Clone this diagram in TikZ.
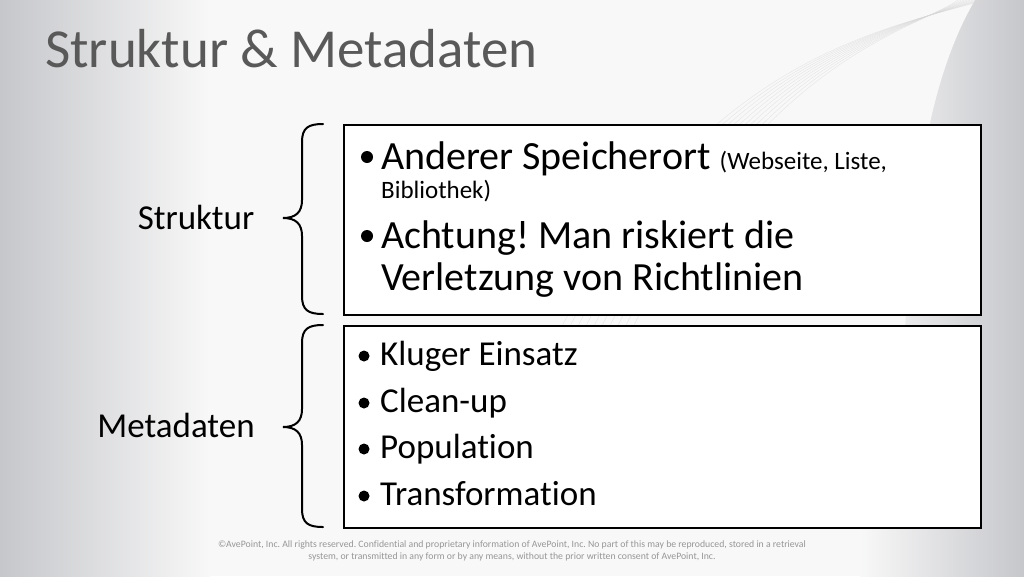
\documentclass[tikz,border=0pt]{standalone}
\usepackage{fontspec}
\setmainfont{Carlito}[Ligatures=NoCommon]
\definecolor{bgL}{RGB}{198,199,203}
\definecolor{bgW}{RGB}{248,248,248}
\definecolor{titlegray}{RGB}{89,89,89}
\definecolor{footgray}{RGB}{150,150,150}
\definecolor{swoosh}{RGB}{215,215,215}
\tikzset{
  box/.style={draw=black, line width=2pt, fill=white, anchor=north west, inner sep=0pt},
  brace/.style={draw=black, line width=2pt, line cap=round},
  bigtxt/.style={anchor=base west, inner sep=0pt, font=\fontsize{40}{44}\selectfont},
  midtxt/.style={anchor=base west, inner sep=0pt, font=\fontsize{35}{40}\selectfont},
  lbl/.style={anchor=base, inner sep=0pt, font=\fontsize{35}{40}\selectfont},
  foot/.style={anchor=base, inner sep=0pt, text=footgray, font=\fontsize{9.75}{11}\selectfont}
}
\begin{document}
\frenchspacing
\begin{tikzpicture}[x=1pt,y=-1pt]
\useasboundingbox (0,0) rectangle (1024,576);
% background
\fill[bgW] (0,0) rectangle (1024,576);
\fill[left color=bgL, right color=bgW] (0,0) rectangle (210,576);
\fill[left color=bgW, right color=bgL] (860,0) rectangle (1024,576);
\fill[bgW] (860,0) -- (975,0) .. controls (940,60) and (915,150) .. (905,330) -- (860,330) -- cycle;
\foreach \i in {0,...,9}{
  \draw[swoosh, line width=0.4pt, opacity=0.6] (560+\i*8,330) .. controls (700+\i*6,60) and (880+\i*4,30) .. (985-\i*3,0);
}
% title
\node[anchor=base west, inner sep=0pt, text=titlegray, font=\fontsize{55}{60}\selectfont] (title) at (45,67) {Struktur \& Metadaten};
% boxes
\node[box, minimum width=637pt, minimum height=190pt] (box1) at (343,124) {};
\node[box, minimum width=637pt, minimum height=202pt] (box2) at (343,325) {};
% braces
\draw[brace] (323,124) .. controls (308,124) and (302,128) .. (302,142) -- (302,200)
  .. controls (302,212) and (296,218) .. (283,218)
  .. controls (296,218) and (302,224) .. (302,236) -- (302,296)
  .. controls (302,310) and (308,314) .. (323,314);
\draw[brace] (323,325) .. controls (308,325) and (302,329) .. (302,343) -- (302,409)
  .. controls (302,421) and (296,427) .. (283,427)
  .. controls (296,427) and (302,433) .. (302,445) -- (302,509)
  .. controls (302,523) and (308,527) .. (323,527);
% labels
\node[lbl] (lstruktur) at (196,229) {Struktur};
\node[lbl] (lmeta) at (176,437) {Metadaten};
% box 1 text
\fill (367,157) circle[radius=6pt];
\node[bigtxt] (t1) at (381,169) {Anderer Speicherort {\fontsize{25}{30}\selectfont (Webseite, Liste,}};
\node[anchor=base west, inner sep=0pt, font=\fontsize{25}{30}\selectfont] (t1b) at (381,198) {Bibliothek)};
\fill (367,236) circle[radius=6pt];
\node[bigtxt] (t2) at (381,248) {Achtung! Man riskiert die};
\node[bigtxt] (t2b) at (381,290) {Verletzung von Richtlinien};
% box 2 text
\fill (364,356) circle[radius=5.5pt];
\node[midtxt] (u1) at (380,365) {Kluger Einsatz};
\fill (364,403) circle[radius=5.5pt];
\node[midtxt] (u2) at (380,412) {Clean-up};
\fill (364,449) circle[radius=5.5pt];
\node[midtxt] (u3) at (380,458) {Population};
\fill (364,496) circle[radius=5.5pt];
\node[midtxt] (u4) at (380,505) {Transformation};
% footer
\node[foot] (f1) at (512,547) {©AvePoint, Inc. All rights reserved. Confidential and proprietary information of AvePoint, Inc. No part of this may be reproduced, stored in a retrieval};
\node[foot] (f2) at (512,559) {system, or transmitted in any form or by any means, without the prior written consent of AvePoint, Inc.};
\end{tikzpicture}
\end{document}
